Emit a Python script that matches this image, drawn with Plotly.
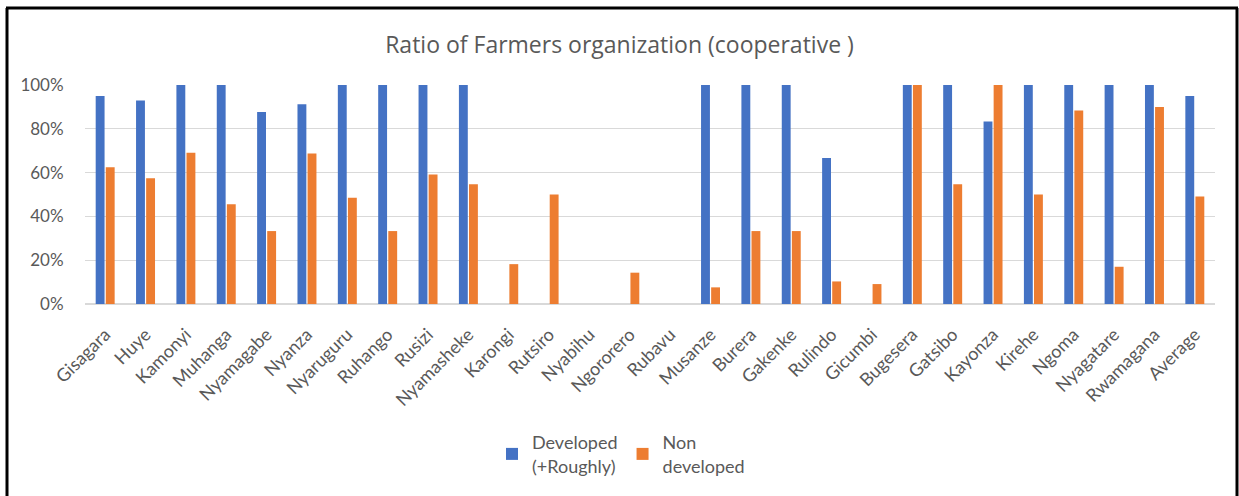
import plotly.graph_objects as go

districts = ["Gisagara", "Huye", "Kamonyi", "Muhanga", "Nyamagabe", "Nyanza", "Nyaruguru",
             "Ruhango", "Rusizi", "Nyamasheke", "Karongi", "Rutsiro", "Nyabihu", "Ngororero",
             "Rubavu", "Musanze", "Burera", "Gakenke", "Rulindo", "Gicumbi", "Bugesera",
             "Gatsibo", "Kayonza", "Kirehe", "Ngoma", "Nyagatare", "Rwamagana", "Average"]

developed = [0.95, 0.929, 1.0, 1.0, 0.877, 0.912, 1.0,
             1.0, 1.0, 1.0, 0.0, 0.0, 0.0, 0.0,
             0.0, 1.0, 1.0, 1.0, 0.667, 0.0, 1.0,
             1.0, 0.833, 1.0, 1.0, 1.0, 1.0, 0.95]

non_developed = [0.625, 0.574, 0.691, 0.456, 0.333, 0.687, 0.485,
                 0.333, 0.591, 0.547, 0.182, 0.50, 0.0, 0.143,
                 0.0, 0.076, 0.333, 0.333, 0.103, 0.091, 1.0,
                 0.547, 1.0, 0.50, 0.883, 0.17, 0.90, 0.491]

FONT = "Lato"
GREY = "#595959"

fig = go.Figure()
fig.add_trace(go.Bar(x=districts, y=developed, name="Developed<br>(+Roughly)",
                     marker=dict(color="#4472C4", line=dict(width=0))))
fig.add_trace(go.Bar(x=districts, y=non_developed, name="Non<br>developed",
                     marker=dict(color="#ED7D31", line=dict(width=0))))

L, R, T, B = 85, 24, 85, 192
W, H = 1239, 496
pw, ph = W - L - R, H - T - B

def px(x):
    return (x - L) / pw

def py(y):
    return (H - B - y) / ph

fig.update_layout(
    width=W, height=H,
    margin=dict(l=L, r=R, t=T, b=B, autoexpand=False),
    paper_bgcolor="white", plot_bgcolor="white",
    barmode="group", bargap=0.5, bargroupgap=0.12,
    title=dict(text="Ratio of Farmers organization (cooperative )", x=0.5, xanchor="center",
               y=1 - 45 / H, yanchor="middle",
               font=dict(family="Open Sans", size=23, color=GREY)),
    font=dict(family=FONT, color=GREY),
    yaxis=dict(range=[0, 1], dtick=0.2, tickformat=".0%", showgrid=True, automargin=False,
               gridcolor="#d9d9d9", gridwidth=1, zeroline=True, zerolinecolor="#d9d9d9",
               tickfont=dict(family=FONT, size=17, color=GREY),
               ticks="outside", ticklen=17, tickcolor="rgba(0,0,0,0)", showline=False),
    xaxis=dict(tickangle=-45, tickfont=dict(family=FONT, size=18, color=GREY), automargin=False,
               showline=True, linecolor="#d9d9d9",
               ticks="outside", ticklen=12, tickcolor="rgba(0,0,0,0)"),
    legend=dict(orientation="h", x=px(492), y=py(424), xanchor="left", yanchor="top",
                font=dict(family=FONT, size=18, color=GREY), itemwidth=30,
                traceorder="normal"),
    showlegend=True,
)

for (x0, y0, x1, y1) in [(7, 8, 7, 500), (6, 8, 1238, 8), (1237, 8, 1237, 500)]:
    fig.add_shape(type="line", xref="paper", yref="paper",
                  x0=px(x0), y0=py(y0), x1=px(x1), y1=py(y1),
                  line=dict(color="black", width=3))

fig.write_html("out.html", config={"displayModeBar": False},
               post_script="document.body.style.margin='0px';document.body.style.overflow='hidden';")
